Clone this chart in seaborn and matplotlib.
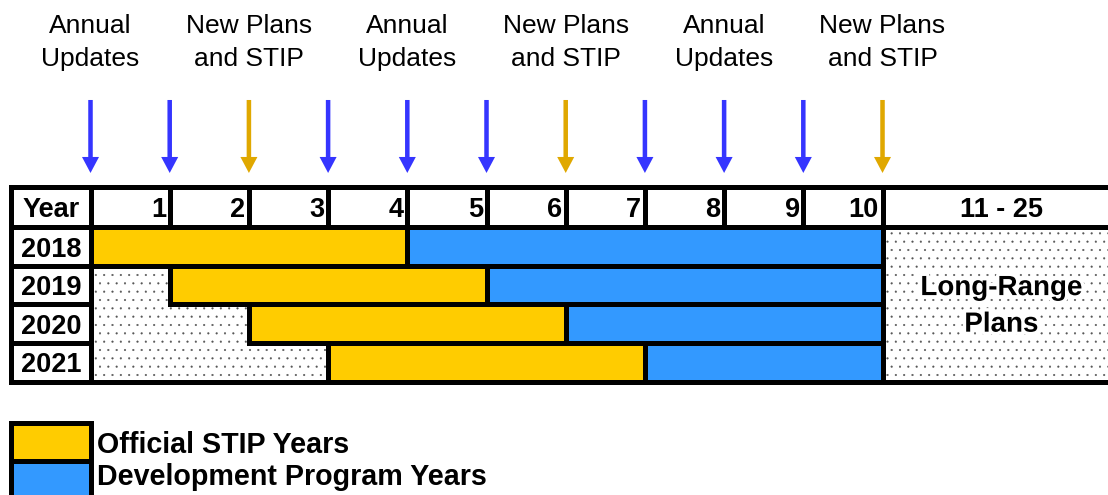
import matplotlib
matplotlib.use("Agg")
import matplotlib.pyplot as plt
import matplotlib.patheffects as pe
import seaborn as sns

# ---------------- data ----------------
plan_years = ["2018", "2019", "2020", "2021"]
stip_start = [0, 1, 2, 3]
stip_length = [4, 4, 4, 4]
dev_start = [4, 5, 6, 7]
dev_length = [6, 5, 4, 3]
column_labels = ["1", "2", "3", "4", "5", "6", "7", "8", "9", "10"]
long_range_label = "11 - 25"
long_range_text = "Long-Range\nPlans"
arrow_years = [0, 1, 2, 3, 4, 5, 6, 7, 8, 9, 10]
arrow_kinds = ["update", "update", "plan", "update", "update", "update",
               "plan", "update", "update", "update", "plan"]
event_years = [0, 2, 4, 6, 8, 10]
event_labels = ["Annual\nUpdates", "New Plans\nand STIP", "Annual\nUpdates",
                "New Plans\nand STIP", "Annual\nUpdates", "New Plans\nand STIP"]
legend_labels = ["Official STIP Years", "Development Program Years"]

# ---------------- style ----------------
sns.set_theme(style="white")
plt.rcParams["font.family"] = ["Liberation Sans", "DejaVu Sans"]
plt.rcParams["text.color"] = "black"
plt.rcParams["hatch.linewidth"] = 0.3

STIP_COLOR = "#FFCC00"
DEV_COLOR = "#3399FF"
ARROW_COLORS = {"update": "#3535FF", "plan": "#E0A800"}
LW = 3.6
BOLD_FS = 19.5
REG_FS = 19

fig = plt.figure(figsize=(11.08, 4.95), dpi=100)
ax = fig.add_axes([0, 0, 1, 1])
ax.set_xlim(-1.1427, 12.847)
ax.set_ylim(6.948, -5.909)
ax.axis("off")

rows = list(range(len(plan_years)))
n_rows = len(plan_years)
header_top = -1.052
lr_left, lr_width = 10, 3.3

# header cells
head_left = [-1] + list(range(len(column_labels))) + [lr_left]
head_width = [1] * (len(column_labels) + 1) + [lr_width]
ax.barh(y=[header_top] * len(head_left), width=head_width, left=head_left,
        height=-header_top, align="edge", color="white", edgecolor="black",
        linewidth=LW, zorder=2)

# row-label cells
ax.barh(y=rows, width=[1] * n_rows, left=[-1] * n_rows, height=1, align="edge",
        color="white", edgecolor="black", linewidth=LW, zorder=2)

# dotted (not yet programmed) areas
ax.barh(y=rows, width=stip_start, left=[0] * n_rows, height=1, align="edge",
        color="white", edgecolor="#555555", linewidth=0, hatch="..", zorder=1)
ax.barh(y=[0], width=[lr_width], left=[lr_left], height=n_rows, align="edge",
        color="white", edgecolor="#555555", linewidth=0, hatch="..", zorder=1)

# programme bars
ax.barh(y=rows, width=stip_length, left=stip_start, height=1, align="edge",
        color=STIP_COLOR, edgecolor="black", linewidth=LW, zorder=2)
ax.barh(y=rows, width=dev_length, left=dev_start, height=1, align="edge",
        color=DEV_COLOR, edgecolor="black", linewidth=LW, zorder=2)

# outer frame of the body
ax.barh(y=[0], width=[1 + lr_left + lr_width], left=[-1], height=n_rows,
        align="edge", fill=False, edgecolor="black", linewidth=LW, zorder=3)

# header texts
ax.text(-0.5, -0.273, "Year", ha="center", va="baseline",
        fontsize=BOLD_FS, fontweight="bold", zorder=5)
for i, lab in enumerate(column_labels):
    ax.text(i + 1 - 0.045, -0.273, lab, ha="right", va="baseline",
            fontsize=BOLD_FS, fontweight="bold", zorder=5)
ax.text(lr_left + 1.5, -0.273, long_range_label, ha="center", va="baseline",
        fontsize=BOLD_FS, fontweight="bold", zorder=5)

# row labels
for r, lab in zip(rows, plan_years):
    ax.text(-0.5, r + 0.76, lab, ha="center", va="baseline",
            fontsize=BOLD_FS, fontweight="bold", zorder=5)

# long range label (baseline of last line)
ax.text(lr_left + 1.5, 2.706, long_range_text, ha="center", va="baseline",
        fontsize=20, fontweight="bold", linespacing=1.53, zorder=5,
        path_effects=[pe.withStroke(linewidth=5, foreground="white")])

# arrows
for xa, kind in zip(arrow_years, arrow_kinds):
    ax.arrow(xa, -3.312, 0, 1.896, width=0.057, head_width=0.215,
             head_length=0.416, length_includes_head=True,
             facecolor=ARROW_COLORS[kind], edgecolor="none", zorder=4)

# event labels (baseline of last line)
for xe, lab in zip(event_years, event_labels):
    ax.text(xe, -4.195, lab, ha="center", va="baseline", fontsize=REG_FS,
            linespacing=1.47, zorder=5)

# key
key_colors = [STIP_COLOR, DEV_COLOR]
key_y = [5.065, 6.052]
ax.barh(y=key_y, width=[1, 1], left=[-1, -1], height=0.987, align="edge",
        color=key_colors, edgecolor="black", linewidth=LW, zorder=2)
for yb, lab in zip([5.857, 6.688], legend_labels):
    ax.text(0.082, yb, lab, ha="left", va="baseline", fontsize=20.6,
            fontweight="bold", zorder=5)

fig.savefig("out.png", dpi=100)
